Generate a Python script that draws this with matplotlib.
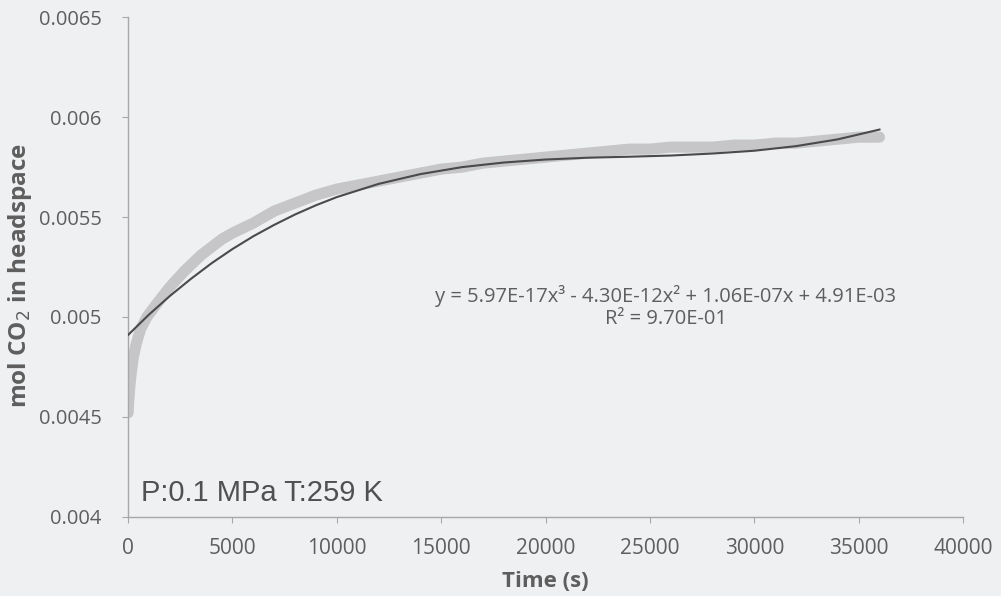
import matplotlib.pyplot as plt

time_s = [0, 30, 80, 150, 250, 400, 600, 900, 1400, 2000, 2700, 3500,
          4500, 5000, 6000, 7000, 8000, 9000, 10000, 11000, 12000, 13000,
          14000, 15000, 16000, 17000, 18000, 19000, 20000, 21000, 22000,
          23000, 24000, 25000, 26000, 27000, 28000, 29000, 30000, 31000,
          32000, 33000, 34000, 35000, 36000]
mol_co2 = [0.00452, 0.00458, 0.00465, 0.00472, 0.00480, 0.00487, 0.00494,
           0.00500, 0.00507, 0.00515, 0.00523, 0.00531, 0.00539, 0.00542,
           0.00547, 0.00553, 0.00557, 0.00561, 0.00564, 0.00566, 0.00568,
           0.00570, 0.00572, 0.00574, 0.00575, 0.00577, 0.00578, 0.00579,
           0.00580, 0.00581, 0.00582, 0.00583, 0.00584, 0.00584, 0.00585,
           0.00585, 0.00585, 0.00586, 0.00586, 0.00587, 0.00587, 0.00588,
           0.00589, 0.00590, 0.00590]

# cubic trendline, read at regular points
trend_t = [0, 1000, 2000, 3000, 4000, 5000, 6000, 7000, 8000, 9000, 10000,
           12000, 14000, 16000, 18000, 20000, 22000, 24000, 26000, 28000,
           30000, 32000, 34000, 36000]
trend_y = [0.004910, 0.005012, 0.005105, 0.005190, 0.005269, 0.005340,
           0.005404, 0.005461, 0.005513, 0.005559, 0.005600, 0.005666,
           0.005715, 0.005750, 0.005773, 0.005788, 0.005797, 0.005802,
           0.005808, 0.005818, 0.005832, 0.005855, 0.005889, 0.005938]

x_ticks = [0, 5000, 10000, 15000, 20000, 25000, 30000, 35000, 40000]
y_ticks = [0.004, 0.0045, 0.005, 0.0055, 0.006, 0.0065]
y_tick_labels = ["0.004", "0.0045", "0.005", "0.0055", "0.006", "0.0065"]

bg = "#eff0f2"
txt = "#5e5e5e"

fig = plt.figure(figsize=(10.01, 5.96), dpi=100, facecolor=bg)
ax = fig.add_axes([0.128, 0.133, 0.834, 0.838])
ax.set_facecolor(bg)

ax.plot(time_s, mol_co2, color="#c6c6c8", linewidth=8,
        solid_capstyle="round", solid_joinstyle="round", zorder=2)
ax.plot(trend_t, trend_y, color="#4a4a4c", linewidth=1.5, zorder=3)

ax.set_xlim(0, 40000)
ax.set_ylim(0.004, 0.0065)
ax.set_xticks(x_ticks)
ax.set_xticklabels([str(t) for t in x_ticks])
ax.set_yticks(y_ticks)
ax.set_yticklabels(y_tick_labels)

for side in ["top", "right"]:
    ax.spines[side].set_visible(False)
for side in ["left", "bottom"]:
    ax.spines[side].set_color("#a8a8aa")
    ax.spines[side].set_linewidth(1.0)

ax.tick_params(axis="both", colors="#a8a8aa", length=4, width=0.8,
               labelcolor=txt)
ax.tick_params(axis="x", labelsize=15, pad=11)
ax.tick_params(axis="y", labelsize=14.5, pad=15)
for lab in ax.get_xticklabels() + ax.get_yticklabels():
    lab.set_family("Open Sans")

ax.set_xlabel("Time (s)", fontsize=16, fontweight="bold", color=txt,
              family="Open Sans")
ax.set_ylabel("mol CO$_2$ in headspace", fontsize=17.5, fontweight="bold",
              color=txt, family="Open Sans")
ax.xaxis.label.set_va("center")
ax.yaxis.label.set_va("center")
ax.xaxis.set_label_coords(0.5, -0.13)
ax.yaxis.set_label_coords(-0.129, 0.482)

ax.text(0.644, 0.42,
        "y = 5.97E-17x\u00b3 - 4.30E-12x\u00b2 + 1.06E-07x + 4.91E-03\n"
        "R\u00b2 = 9.70E-01",
        transform=ax.transAxes, ha="center", va="center", fontsize=14.5,
        color=txt, family="Open Sans", linespacing=1.1)

ax.text(0.015, 0.048, "P:0.1 MPa T:259 K", transform=ax.transAxes,
        ha="left", va="center", fontsize=21, color="#505050",
        family="Liberation Sans")

fig.savefig("out.png", dpi=100, facecolor=bg)
